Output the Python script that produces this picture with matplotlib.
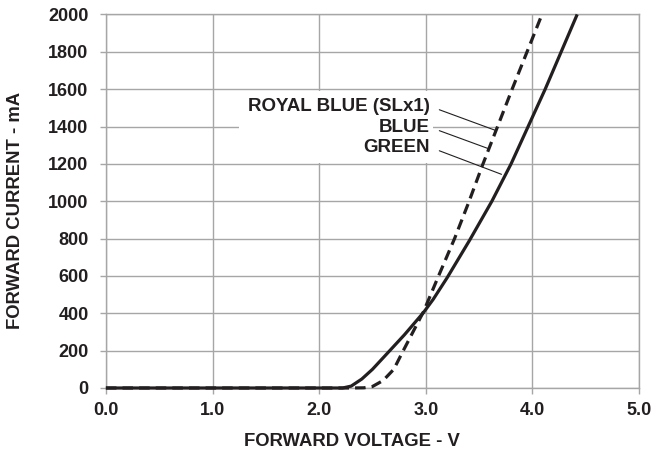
import matplotlib.pyplot as plt
from matplotlib.patches import Rectangle

plt.rcParams['font.family'] = ['Liberation Sans', 'DejaVu Sans']
plt.rcParams['font.weight'] = 'bold'

INK = '#231f20'
GRID = '#a6a6a6'

# solid curve (GREEN)
green_v = [0.0, 2.0, 2.22, 2.3, 2.4, 2.5, 2.63, 2.8, 2.98, 3.07,
           3.2, 3.41, 3.62, 3.80, 3.96, 4.12, 4.27, 4.42]
green_i = [0, 0, 0, 10, 48, 100, 180, 285, 405, 475,
           590, 790, 1000, 1200, 1400, 1600, 1800, 2000]

# dashed curve (ROYAL BLUE / BLUE)
blue_v = [0.0, 2.3, 2.42, 2.5, 2.6, 2.7, 2.78, 2.88, 2.98, 3.12,
          3.27, 3.40, 3.53, 3.67, 3.81, 3.95, 4.09]
blue_i = [0, 0, 1, 8, 40, 100, 190, 300, 410, 600,
          800, 990, 1190, 1395, 1600, 1800, 2000]

x_ticks = [0, 1, 2, 3, 4, 5]
y_ticks = list(range(0, 2001, 200))

labels = ['ROYAL BLUE (SLx1)', 'BLUE', 'GREEN']
label_y = [1508, 1396, 1289]
label_x = 3.04
pointer_xy = [(3.65, 1380), (3.58, 1283), (3.71, 1144)]

fig = plt.figure(figsize=(6.66, 4.51), dpi=100)
ax = fig.add_axes([0.159, 0.1397, 0.8005, 0.8283])

ax.plot(green_v, green_i, color=INK, lw=2.3, clip_on=False, zorder=3,
        solid_capstyle='butt')
ax.plot(blue_v, blue_i, color=INK, lw=2.3, ls=(0, (3.3, 1.9)), clip_on=False,
        zorder=3)

ax.set_xlim(0, 5)
ax.set_ylim(0, 2000)
ax.set_xticks(x_ticks)
ax.set_xticklabels([f'{v:.1f}' for v in x_ticks])
ax.set_yticks(y_ticks)
ax.set_axisbelow(True)
ax.grid(True, color=GRID, lw=1.0)
for s in ax.spines.values():
    s.set_color(GRID)
    s.set_linewidth(1.0)
ax.tick_params(direction='out', length=4, width=1.0, color=GRID,
               labelsize=13, labelcolor=INK)
ax.tick_params(axis='y', pad=8.5)
ax.tick_params(axis='x', pad=6)

ax.set_xlabel('FORWARD VOLTAGE - V', fontsize=13.3, color=INK, fontweight='bold')
ax.set_ylabel('FORWARD CURRENT - mA', fontsize=13.3, color=INK, fontweight='bold')
ax.xaxis.set_label_coords(0.4615, -0.12)
ax.yaxis.set_label_coords(-0.154, 0.476)

# white area behind the labels
ax.add_patch(Rectangle((1.25, 1205), 1.82, 385, facecolor='white',
                       edgecolor='none', zorder=1))

for txt, ty, xy in zip(labels, label_y, pointer_xy):
    ax.annotate(txt, xy=xy, xytext=(label_x, ty), ha='right', va='center',
                fontsize=13.5, fontweight='bold', color=INK, zorder=4,
                arrowprops=dict(arrowstyle='-', color=INK, lw=0.8,
                                relpos=(1, 0.5), shrinkA=5, shrinkB=0))

fig.savefig('out.png', dpi=100)
